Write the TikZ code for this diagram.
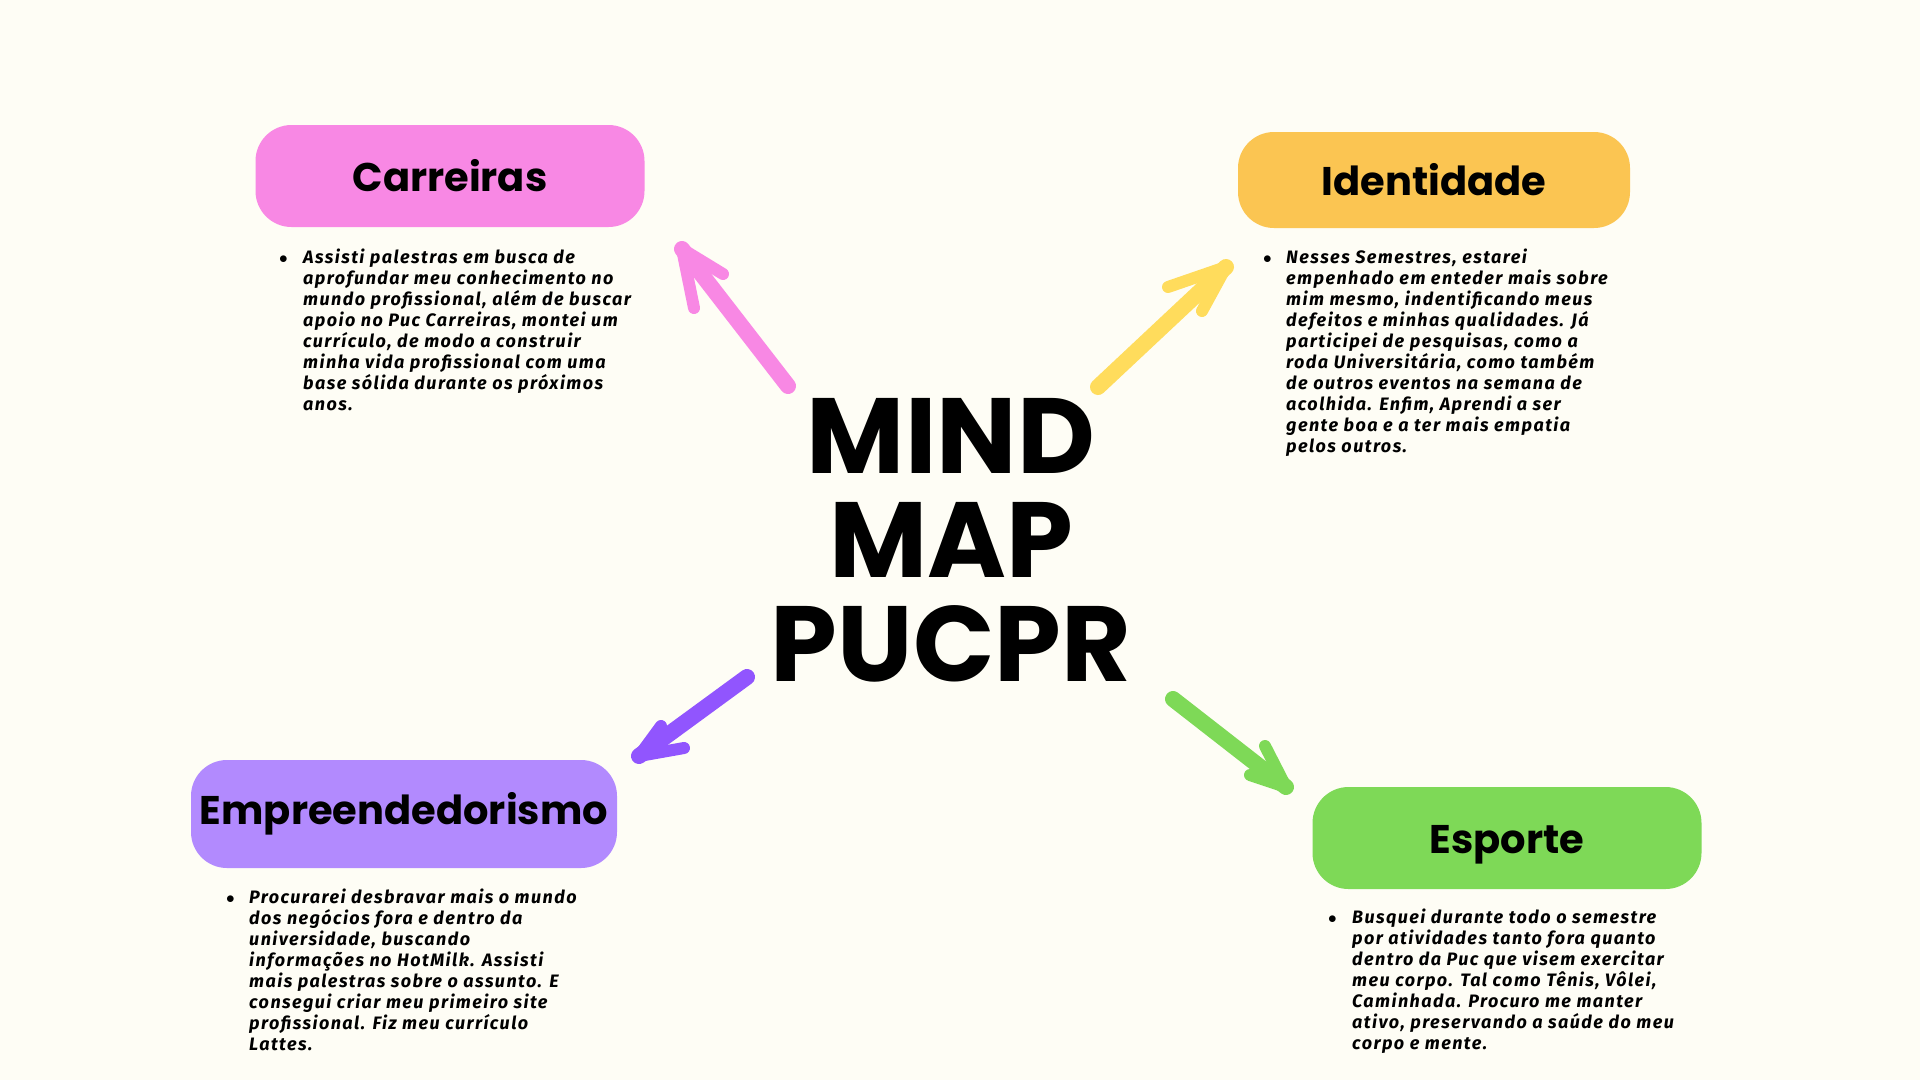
\documentclass[tikz,border=0pt]{standalone}
\usepackage{fontspec}
\usepackage{xcolor}
\setmainfont{Fira Sans}
\newfontfamily\headfont{Poppins}
\newfontfamily\bodyfont{Fira Sans}[LetterSpace=8]

\definecolor{bgcream}{HTML}{FEFDF5}
\definecolor{pinkc}{HTML}{F888E4}
\definecolor{yellowc}{HTML}{FFDC5C}
\definecolor{orangec}{HTML}{FBC552}
\definecolor{purplec}{HTML}{9155FE}
\definecolor{lavc}{HTML}{B28AFE}
\definecolor{greenc}{HTML}{7ED957}

\begin{document}
\begin{tikzpicture}[x=1pt, y=-1pt,
  topic/.style={rectangle, rounded corners=36pt, inner sep=0pt, font=\headfont\bfseries\fontsize{40}{40}\selectfont},
  body/.style={anchor=base west, inner sep=0pt, font=\bodyfont\bfseries\itshape\fontsize{18}{21}\selectfont},
  shaft/.style={line width=16pt, line cap=round},
  barb/.style={line width=12pt, line cap=round, line join=round}]
                \fill[bgcream] (0,0) rectangle (1920,1080);
                \useasboundingbox (0,0) rectangle (1920,1080);

                % title
                \node[inner sep=0pt, align=center, font=\headfont\bfseries\fontsize{107}{104}\selectfont] (title) at (951,540) {MIND\\MAP\\PUCPR};

                % topic boxes
                \node[topic, fill=pinkc, minimum width=389pt, minimum height=102pt] (carr) at (450,176) {Carreiras};
                \node[topic, fill=orangec, minimum width=392pt, minimum height=96pt] (ident) at (1434,180) {Identidade};
                \node[topic, fill=lavc, minimum width=426pt, minimum height=108pt] (empr) at (404,814) {Empreendedorismo};
                \node[topic, fill=greenc, minimum width=389pt, minimum height=102pt] (esp) at (1507,838) {\raisebox{-15pt}[0pt][0pt]{Esporte}};

                % texts
                \node[body] (carrtxt) at (279,263) {\makebox[24pt][l]{$\bullet$}\parbox[t]{380pt}{\raggedright
                  Assisti palestras em busca de\\
                  aprofundar meu conhecimento no\\
                  mundo profissional, além de buscar\\
                  apoio no Puc Carreiras, montei um\\
                  currículo, de modo a construir\\
                  minha vida profissional com uma\\
                  base sólida durante os próximos\\
                  anos.}};
                \node[body] (identtxt) at (1263,263) {\makebox[23pt][l]{$\bullet$}\parbox[t]{380pt}{\raggedright
                  Nesses Semestres, estarei\\
                  empenhado em enteder mais sobre\\
                  mim mesmo, indentificando meus\\
                  defeitos e minhas qualidades. Já\\
                  participei de pesquisas, como a\\
                  roda Universitária, como também\\
                  de outros eventos na semana de\\
                  acolhida. Enfim, Aprendi a ser\\
                  gente boa e a ter mais empatia\\
                  pelos outros.}};
                \node[body] (emprtxt) at (226,903) {\makebox[23pt][l]{$\bullet$}\parbox[t]{380pt}{\raggedright
                  Procurarei desbravar mais o mundo\\
                  dos negócios fora e dentro da\\
                  universidade, buscando\\
                  informações no HotMilk. Assisti\\
                  mais palestras sobre o assunto. E\\
                  consegui criar meu primeiro site\\
                  profissional. Fiz meu currículo\\
                  Lattes.}};
                \node[body] (esptxt) at (1328,923) {\makebox[24pt][l]{$\bullet$}\parbox[t]{380pt}{\raggedright
                  Busquei durante todo o semestre\\
                  por atividades tanto fora quanto\\
                  dentro da Puc que visem exercitar\\
                  meu corpo. Tal como Tênis, Vôlei,\\
                  Caminhada. Procuro me manter\\
                  ativo, preservando a saúde do meu\\
                  corpo e mente.}};

                % arrow ends
                \coordinate (pinktail) at (788,386);
                \coordinate (pinktip) at (682,249);
                \coordinate (pinkb1) at (694,308);
                \coordinate (pinkb2) at (723,274);
                \coordinate (yeltail) at (1098,387);
                \coordinate (yeltip) at (1226,267);
                \coordinate (yelb1) at (1168,287);
                \coordinate (yelb2) at (1202,311);
                \coordinate (purtail) at (747,677);
                \coordinate (purtip) at (639,756);
                \coordinate (purb1) at (661,726);
                \coordinate (purb2) at (684,748);
                \coordinate (grntail) at (1173,699);
                \coordinate (grntip) at (1286,787);
                \coordinate (grnb1) at (1265,746);
                \coordinate (grnb2) at (1250,775);

                \draw[shaft, pinkc] (pinktail) -- (pinktip);
                \draw[barb, pinkc] (pinkb1) -- (pinktip) -- (pinkb2);
                \draw[shaft, yellowc] (yeltail) -- (yeltip);
                \draw[barb, yellowc] (yelb1) -- (yeltip) -- (yelb2);
                \draw[shaft, purplec] (purtail) -- (purtip);
                \draw[barb, purplec] (purb1) -- (purtip) -- (purb2);
                \draw[shaft, greenc] (grntail) -- (grntip);
                \draw[barb, greenc] (grnb1) -- (grntip) -- (grnb2);
            \end{tikzpicture}
\end{document}
